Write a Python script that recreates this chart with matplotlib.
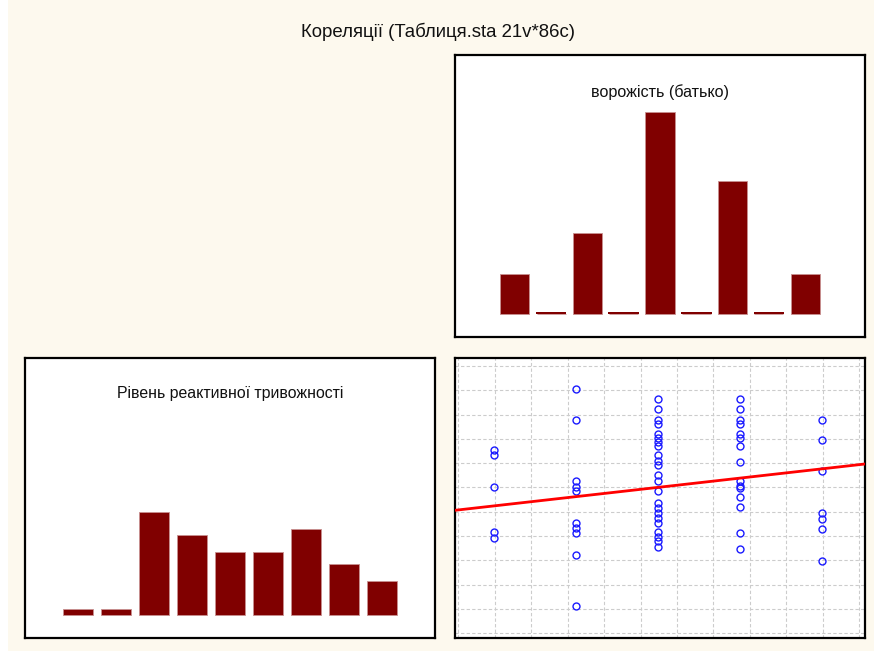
import matplotlib
matplotlib.use("Agg")
import matplotlib.pyplot as plt
import numpy as np

plt.rcParams['font.family'] = ['Liberation Sans', 'DejaVu Sans']

BG = "#fdf9ee"
BAR = "#800000"
W, H = 874, 651

title = "Кореляції (Таблиця.sta 21v*86c)"
name_x = "ворожість (батько)"
name_y = "Рівень реактивної тривожності"

# histogram bins and counts (86 cases)
bins = [1, 2, 3, 4, 5, 6, 7, 8, 9]
counts_x = [7, 0, 14, 0, 35, 0, 23, 0, 7]
counts_y = [1, 1, 18, 14, 11, 11, 15, 9, 6]

# scatter: x level -> y values
x1 = [52.8, 51.6, 45.0, 35.8, 34.6]
x3 = [65.4, 58.9, 46.3, 45.2, 44.2, 37.7, 36.6, 35.6, 31.1, 20.6]
x5 = [63.3, 61.2, 58.9, 58.1, 56.0, 55.2, 54.4, 53.6, 51.6, 50.5, 49.6, 47.5,
      46.3, 44.2, 41.8, 40.8, 39.7, 38.7, 37.7, 35.8, 34.8, 33.9, 32.7]
x7 = [63.3, 61.2, 59.0, 58.1, 56.0, 55.2, 53.5, 50.3, 46.3, 45.3, 44.9, 43.0,
      40.9, 35.6, 32.4]
x9 = [58.9, 54.7, 48.3, 39.7, 38.5, 36.4, 29.9]
scatter_levels = [1, 3, 5, 7, 9]
scatter_values = [x1, x3, x5, x7, x9]

reg_intercept = 40.25
reg_slope = 0.956

fig = plt.figure(figsize=(W / 100, H / 100), dpi=100)
fig.patch.set_facecolor(BG)
# white strip at the left edge
fig.add_artist(plt.Rectangle((0, 0), 8 / W, 1, transform=fig.transFigure,
                             facecolor="white", edgecolor="none"))
fig.text(438 / W, 1 - 32 / H, title, ha="center", va="center", fontsize=13.4,
         color="#111111")


def panel(x0, y0, x1_, y1_):
    ax = fig.add_axes([x0 / W, 1 - y1_ / H, (x1_ - x0) / W, (y1_ - y0) / H])
    ax.set_facecolor("white")
    for s in ax.spines.values():
        s.set_linewidth(1.6)
        s.set_color("black")
    ax.set_xticks([])
    ax.set_yticks([])
    return ax


def hist(ax, counts, half, label, ty, fs):
    ax.bar(bins, counts, width=0.8, color=BAR, edgecolor="#c89090",
           linewidth=0.6)
    for b, c in zip(bins, counts):
        if c == 0:
            ax.bar(b, 0.35, width=0.84, color=BAR, linewidth=0)
    ax.set_xlim(5 - half, 5 + half)
    ax.set_ylim(-4.0, 44.9)
    ax.text(0.5, ty, label, transform=ax.transAxes, ha="center",
            va="center", fontsize=fs, color="#111111")


ax_top = panel(455, 55, 865, 337)
hist(ax_top, counts_x, 5.65, name_x, 0.87, 11.6)

ax_left = panel(25, 358, 435, 638)
hist(ax_left, counts_y, 5.39, name_y, 0.873, 11.4)

ax_sc = panel(455, 358, 865, 638)
ax_sc.set_xlim(0.05, 10.04)
ax_sc.set_ylim(13.97, 71.7)
ax_sc.set_xticks(np.linspace(0.135, 9.894, 12))
ax_sc.set_yticks(np.linspace(15, 70, 12))
ax_sc.tick_params(length=0, labelbottom=False, labelleft=False)
ax_sc.grid(True, color="#cccccc", linestyle=(0, (3, 2)), linewidth=0.8)
ax_sc.set_axisbelow(True)
for lv, vals in zip(scatter_levels, scatter_values):
    ax_sc.plot([lv] * len(vals), vals, "o", mfc="none", mec="#1a1aff",
               ms=5, mew=1.0, zorder=3)
ax_sc.axline((0, reg_intercept), slope=reg_slope, color="#ff0000", lw=2,
             zorder=4)

fig.savefig("out.png", dpi=100, facecolor=BG)
